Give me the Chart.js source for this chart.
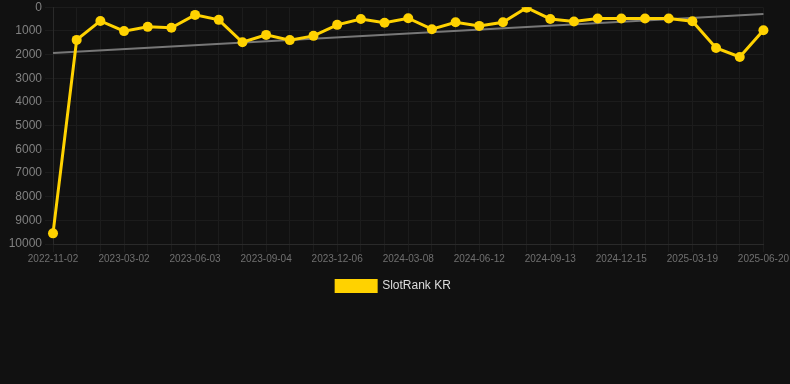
<!DOCTYPE html>
<html>
<head>
<meta charset="utf-8">
<script src="https://cdn.jsdelivr.net/npm/chart.js@4.4.1/dist/chart.umd.min.js"></script>
<style>
  html, body { margin: 0; padding: 0; background: #111111; }
  #wrap { width: 790px; height: 302px; position: relative; }
</style>
</head>
<body>
<div id="wrap"><canvas id="chartRank"></canvas></div>
<script>
const fechas = [
  "2022-11-02", "2022-12-12", "2023-01-21", "2023-03-02", "2023-04-02", "2023-05-03",
  "2023-06-03", "2023-07-04", "2023-08-04", "2023-09-04", "2023-10-05", "2023-11-05",
  "2023-12-06", "2024-01-06", "2024-02-06", "2024-03-08", "2024-04-08", "2024-05-11",
  "2024-06-12", "2024-07-13", "2024-08-13", "2024-09-13", "2024-10-14", "2024-11-14",
  "2024-12-15", "2025-01-15", "2025-02-16", "2025-03-19", "2025-04-19", "2025-05-20",
  "2025-06-20"
];
const rankKR = [
  9550, 1380, 580, 1010, 830, 870, 325, 535, 1480, 1170, 1390, 1210, 745,
  495, 660, 465, 930, 635, 790, 635, 20, 495, 605, 480, 480, 480, 480,
  590, 1720, 2100, 970
];
const tendenciaInicio = 1930;
const tendenciaFin = 285;

// linea de tendencia: solo extremos, el resto se une con spanGaps
const tendencia = fechas.map((f, i) =>
  i === 0 ? tendenciaInicio : i === fechas.length - 1 ? tendenciaFin : null
);

Chart.defaults.font.family = "'Helvetica Neue', Helvetica, Arial, sans-serif";

new Chart(document.getElementById("chartRank"), {
  type: "line",
  data: {
    labels: fechas,
    datasets: [
      {
        label: "SlotRank KR",
        data: rankKR,
        borderColor: "#ffd200",
        backgroundColor: "#ffd200",
        borderWidth: 3,
        pointRadius: 5,
        pointHoverRadius: 6,
        pointBackgroundColor: "#ffd200",
        pointBorderWidth: 0,
        tension: 0,
      },
      {
        label: "trend",
        data: tendencia,
        borderColor: "#777777",
        borderWidth: 2,
        pointRadius: 0,
        spanGaps: true,
      },
    ],
  },
  options: {
    responsive: true,
    maintainAspectRatio: false,
    animation: false,
    layout: { padding: { right: 3 } },
    plugins: {
      title: { display: false },
      tooltip: { enabled: false },
      legend: {
        display: true,
        position: "bottom",
        labels: {
          color: "#dddddd",
          font: { size: 12 },
          boxWidth: 40,
          boxHeight: 11,
          padding: 14,
          filter: (item) => item.text !== "trend",
        },
      },
    },
    scales: {
      x: {
        grid: { color: "#1c1c1c", drawTicks: true, tickLength: 8 },
        border: { color: "#2a2a2a" },
        ticks: {
          color: "#707070",
          font: { size: 10 },
          padding: 1,
          maxRotation: 0,
          autoSkip: false,
          callback: function (val, i) {
            return i % 3 === 0 ? this.getLabelForValue(val) : "";
          },
        },
      },
      y: {
        reverse: true,
        min: 0,
        max: 10000,
        afterFit: (scale) => {
          scale.width = 53;
        },
        grid: { color: "#1c1c1c", tickLength: 8 },
        border: { color: "#2a2a2a" },
        ticks: {
          stepSize: 1000,
          color: "#808080",
          font: { size: 12, lineHeight: 0.7 },
          callback: (v) => String(v),
        },
      },
    },
  },
});
</script>
</body>
</html>
